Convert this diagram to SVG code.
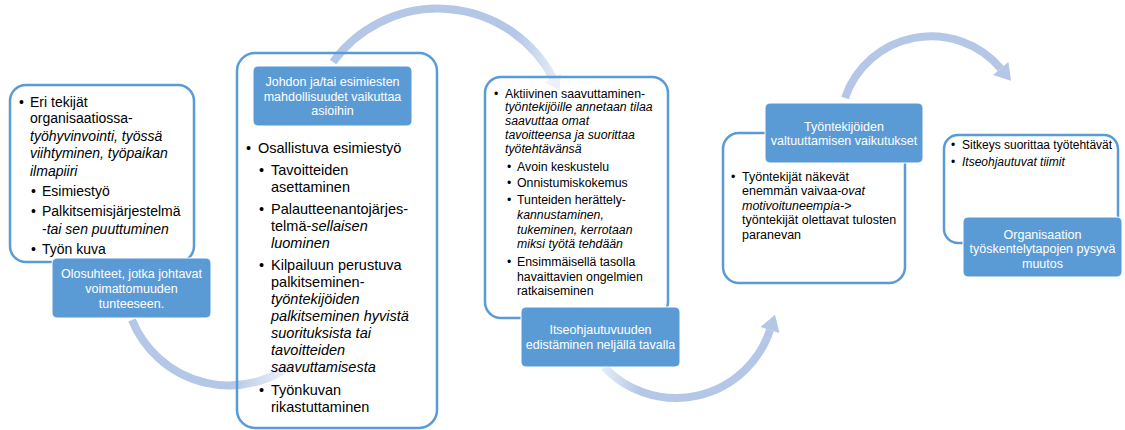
<svg xmlns="http://www.w3.org/2000/svg" width="1125" height="430" viewBox="0 0 1125 430">
<defs>
<style>
.box{fill:none;stroke:#5B9BD5;stroke-width:2.5}
.lbl{fill:#5B9BD5;stroke:#fff;stroke-width:1}
.t{font-family:"Liberation Sans",Arial,sans-serif;fill:#000}
.lt{font-family:"Liberation Sans",Arial,sans-serif;fill:#fff;font-size:12.5px;text-anchor:middle}
.i{font-style:italic}
.arc{fill:none;stroke-width:8}
.head{fill:#B4C7E7}
</style>
<linearGradient id="g1" gradientUnits="userSpaceOnUse" x1="230" y1="0" x2="302" y2="0">
<stop offset="0" stop-color="#B4C7E7" stop-opacity="1"/>
<stop offset="1" stop-color="#B4C7E7" stop-opacity="0.05"/>
</linearGradient>
<linearGradient id="g2" gradientUnits="userSpaceOnUse" x1="515" y1="0" x2="560" y2="0">
<stop offset="0" stop-color="#B4C7E7" stop-opacity="1"/>
<stop offset="1" stop-color="#B4C7E7" stop-opacity="0.3"/>
</linearGradient>
<linearGradient id="g3" gradientUnits="userSpaceOnUse" x1="600" y1="0" x2="640" y2="0">
<stop offset="0" stop-color="#B4C7E7" stop-opacity="0.3"/>
<stop offset="1" stop-color="#B4C7E7" stop-opacity="1"/>
</linearGradient>
</defs>

<g id="connectors">
<path class="arc" stroke="url(#g1)" d="M132,320 A105,105 0 0 0 300,358"/>
<path class="arc" stroke="url(#g2)" d="M333,62 A130,130 0 0 1 553,78"/>
<polygon class="head" opacity="0.25" points="561,73.8 545,82.2 559.6,90.4"/>
<path class="arc" stroke="url(#g3)" d="M604,367 A99,99 0 0 0 770,330"/>
<polygon class="head" points="779.5,333.1 760.5,326.9 775,314.8"/>
<path class="arc" stroke="#B4C7E7" d="M845,98 A91,91 0 0 1 1000.7,68.5"/>
<polygon class="head" points="1008.4,62.1 993,74.9 1011,80.8"/>
</g>

<g id="node1">
<rect class="box" x="10" y="85" width="184" height="177" rx="16"/>
<g class="t" font-size="14px">
<text x="19" y="107">•</text>
<text x="30" y="107">Eri tekijät</text>
<text x="30" y="123">organisaatiossa-</text>
<text x="30" y="141" class="i">työhyvinvointi, työssä</text>
<text x="30" y="158" class="i">viihtyminen, työpaikan</text>
<text x="30" y="176" class="i">ilmapiiri</text>
<text x="31" y="196">•</text>
<text x="42" y="196">Esimiestyö</text>
<text x="31" y="216">•</text>
<text x="42" y="216">Palkitsemisjärjestelmä</text>
<text x="42" y="234">-<tspan class="i">tai sen puuttuminen</tspan></text>
<text x="31" y="254">•</text>
<text x="42" y="254">Työn kuva</text>
</g>
<rect class="lbl" x="52" y="258" width="159" height="60" rx="5"/>
<text class="lt" x="131.5" y="278">Olosuhteet, jotka johtavat</text>
<text class="lt" x="131.5" y="293">voimattomuuden</text>
<text class="lt" x="131.5" y="308">tunteeseen.</text>
</g>

<g id="node2">
<rect class="box" x="237" y="53" width="200" height="375" rx="18"/>
<rect class="lbl" x="253" y="66" width="159" height="60" rx="5"/>
<text class="lt" x="332.5" y="86">Johdon ja/tai esimiesten</text>
<text class="lt" x="332.5" y="101">mahdollisuudet vaikuttaa</text>
<text class="lt" x="332.5" y="115">asioihin</text>
<g class="t" font-size="14.5px">
<text x="246" y="153">•</text>
<text x="258" y="153">Osallistuva esimiestyö</text>
<text x="259" y="175">•</text>
<text x="271" y="175">Tavoitteiden</text>
<text x="271" y="192">asettaminen</text>
<text x="259" y="214">•</text>
<text x="271" y="214">Palautteenantojärjes-</text>
<text x="271" y="231">telmä-<tspan class="i">sellaisen</tspan></text>
<text x="271" y="248" class="i">luominen</text>
<text x="259" y="270">•</text>
<text x="271" y="270">Kilpailuun perustuva</text>
<text x="271" y="287">palkitseminen-</text>
<text x="271" y="304" class="i">työntekijöiden</text>
<text x="271" y="321" class="i">palkitseminen hyvistä</text>
<text x="271" y="338" class="i">suorituksista tai</text>
<text x="271" y="355" class="i">tavoitteiden</text>
<text x="271" y="372" class="i">saavuttamisesta</text>
<text x="259" y="395">•</text>
<text x="271" y="395">Työnkuvan</text>
<text x="271" y="412">rikastuttaminen</text>
</g>
</g>

<g id="node3">
<rect class="box" x="485" y="77" width="183" height="241" rx="16"/>
<g class="t" font-size="12.3px">
<text x="494" y="97.5">•</text>
<text x="505" y="97.5">Aktiivinen saavuttaminen-</text>
<text x="505" y="111" class="i">työntekijöille annetaan tilaa</text>
<text x="505" y="125" class="i">saavuttaa omat</text>
<text x="505" y="139" class="i">tavoitteensa ja suorittaa</text>
<text x="505" y="153" class="i">työtehtävänsä</text>
<text x="507" y="171">•</text>
<text x="517" y="171">Avoin keskustelu</text>
<text x="507" y="187">•</text>
<text x="517" y="187">Onnistumiskokemus</text>
<text x="507" y="204">•</text>
<text x="517" y="204">Tunteiden herättely-</text>
<text x="517" y="219" class="i">kannustaminen,</text>
<text x="517" y="234" class="i">tukeminen, kerrotaan</text>
<text x="517" y="248" class="i">miksi työtä tehdään</text>
<text x="507" y="266">•</text>
<text x="517" y="266">Ensimmäisellä tasolla</text>
<text x="517" y="281">havaittavien ongelmien</text>
<text x="517" y="295">ratkaiseminen</text>
</g>
<rect class="lbl" x="521" y="307" width="159" height="60" rx="5"/>
<text class="lt" x="600.5" y="334">Itseohjautuvuuden</text>
<text class="lt" x="600.5" y="349">edistäminen neljällä tavalla</text>
</g>

<g id="node4">
<rect class="box" x="723" y="133" width="182" height="150" rx="16"/>
<rect class="lbl" x="765" y="103" width="158" height="60" rx="5"/>
<text class="lt" x="844" y="130.5">Työntekijöiden</text>
<text class="lt" x="844" y="145">valtuuttamisen vaikutukset</text>
<g class="t" font-size="12.5px">
<text x="731" y="181">•</text>
<text x="742" y="181">Työntekijät näkevät</text>
<text x="742" y="195">enemmän vaivaa-<tspan class="i">ovat</tspan></text>
<text x="742" y="209.5"><tspan class="i">motivoituneempia-</tspan>&gt;</text>
<text x="742" y="224">työntekijät olettavat tulosten</text>
<text x="742" y="239">paranevan</text>
</g>
</g>

<g id="node5">
<rect class="box" x="944" y="135" width="174" height="108" rx="14"/>
<g class="t" font-size="12px">
<text x="951" y="149">•</text>
<text x="962" y="149">Sitkeys suorittaa työtehtävät</text>
<text x="951" y="165.5">•</text>
<text x="962" y="165.5" class="i">Itseohjautuvat tiimit</text>
</g>
<rect class="lbl" x="963" y="217" width="159" height="60" rx="5"/>
<text class="lt" x="1042.5" y="238.5">Organisaation</text>
<text class="lt" x="1042.5" y="253">työskentelytapojen pysyvä</text>
<text class="lt" x="1042.5" y="267.5">muutos</text>
</g>
</svg>
